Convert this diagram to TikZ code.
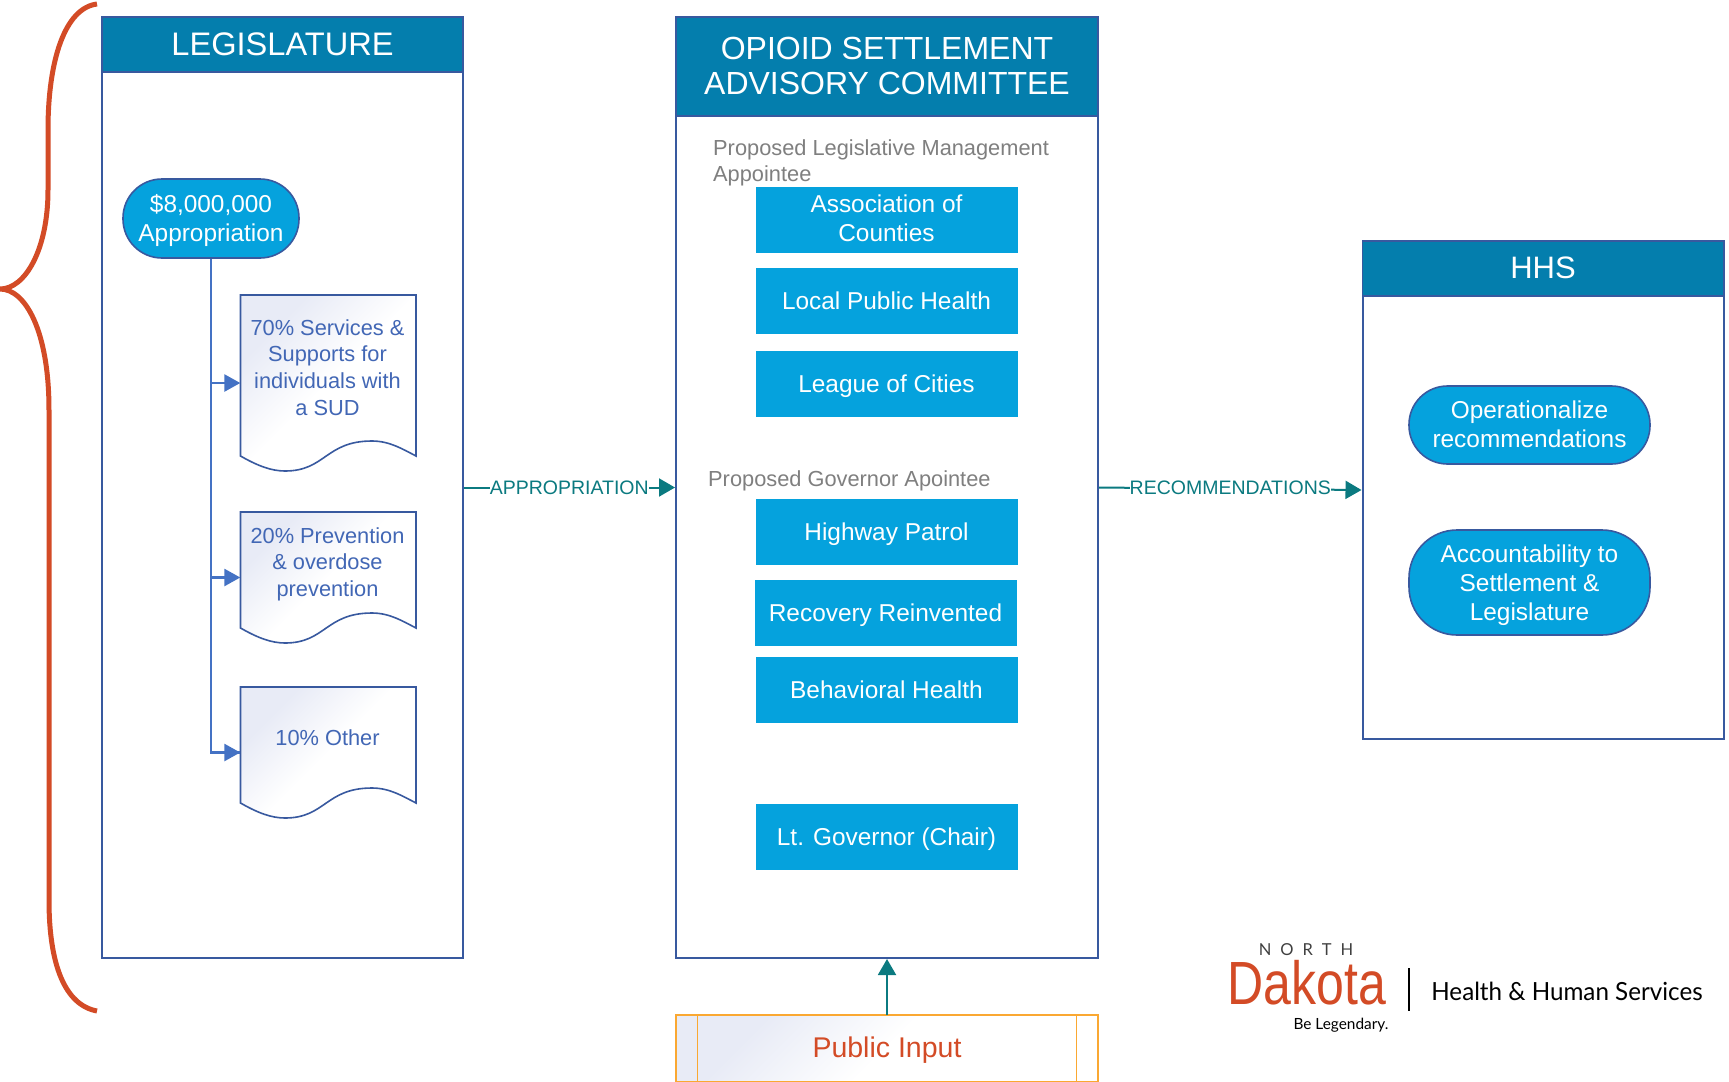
\documentclass[tikz,border=0pt]{standalone}
\usepackage{fontspec}
\setmainfont{Liberation Sans}
\newfontfamily\logofont{Lato}
\usetikzlibrary{arrows.meta,calc}
\definecolor{hdr}{HTML}{047EAD}
\definecolor{tile}{HTML}{05A2DD}
\definecolor{frame}{HTML}{38599F}
\definecolor{link}{HTML}{4472C4}
\definecolor{teal}{HTML}{0B7A80}
\definecolor{rust}{HTML}{D34B26}
\definecolor{amber}{HTML}{FAA832}
\definecolor{pale}{HTML}{E8EBF6}
\definecolor{graytxt}{HTML}{7F7F7F}
\definecolor{doctxt}{HTML}{4267B5}
\pgfdeclarehorizontalshading{docgrad}{100bp}{color(0bp)=(pale); color(28bp)=(pale); color(50bp)=(white); color(100bp)=(white)}
\newcommand\docshape[3]{%
  \path[draw=frame,line width=1.6bp,shading=docgrad,shading angle=-45,shift={(#1,#2)}]
    (0,-#3) -- (0,0) .. controls (17.5,10) and (31,15) .. (44.5,15)
    .. controls (85,15) and (85,-15) .. (131.5,-15)
    .. controls (149,-15) and (162,-7) .. (175.5,0) -- (175.5,-#3) -- cycle;}
\tikzset{
  panel/.style={draw=frame,line width=2bp,fill=white,rectangle,inner sep=0pt},
  header/.style={draw=frame,line width=1.6bp,fill=hdr,text=white,rectangle,inner sep=0pt,align=center,font=\fontsize{32bp}{35bp}\selectfont},
  tilebox/.style={fill=tile,draw=white,line width=0.6bp,text=white,rectangle,inner sep=0pt,align=center,minimum width=263bp,minimum height=67bp,font=\fontsize{24.4bp}{29bp}\selectfont},
  tileone/.style={tilebox,text height=17.5bp,text depth=0pt},
  pill/.style={fill=tile,draw=frame,line width=1.6bp,text=white,rectangle,inner sep=0pt,align=center,font=\fontsize{24.4bp}{29bp}\selectfont},
  docframe/.style={rectangle,inner sep=0pt,minimum width=175.5bp},
  doctext/.style={text=doctxt,align=center,inner sep=0pt,font=\fontsize{21.8bp}{26.6bp}\selectfont},
  graylabel/.style={text=graytxt,anchor=north west,align=left,inner sep=0pt,font=\fontsize{21.8bp}{25.4bp}\selectfont},
  bluelink/.style={draw=link,line width=2.6bp},
  bluearrow/.style={bluelink,-{Triangle[length=16bp,width=17bp]}},
  tealarrow/.style={draw=teal,line width=2bp,-{Triangle[length=16bp,width=18bp]}},
  flowlabel/.style={fill=white,text=teal,inner xsep=0pt,inner ysep=1bp,font=\fontsize{19.5bp}{24bp}\selectfont}
}
\begin{document}
\begin{tikzpicture}[x=1bp,y=-1bp]
\useasboundingbox (0,0) rectangle (1729,1081);
\fill[white] (0,0) rectangle (1729,1081);
% brace
\draw[rust,line width=5bp] (97,4) .. controls (65,8) and (48,60) .. (48,130) -- (48,190)
  .. controls (48,250) and (25,289) .. (0,289)
  .. controls (25,289) and (49,330) .. (49,410) -- (49,900)
  .. controls (49,965) and (65,1005) .. (97,1011);
% panels
\node[panel,minimum width=360bp,minimum height=941bp] (leg) at (282.5,487.5) {};
\node[header,minimum width=360bp,minimum height=55bp,font=\fontsize{32.6bp}{35bp}\selectfont] (legh) at (282.5,44.5) {LEGISLATURE};
\node[panel,minimum width=422bp,minimum height=941bp] (mid) at (887,487.5) {};
\node[header,minimum width=422bp,minimum height=99bp,text depth=2bp] (midh) at (887,66.5) {OPIOID SETTLEMENT\\ADVISORY COMMITTEE};
\node[panel,minimum width=361bp,minimum height=498bp] (hhs) at (1543,490) {};
\node[header,minimum width=361bp,minimum height=55bp,text depth=2bp,font=\fontsize{31bp}{35bp}\selectfont] (hhsh) at (1543,268.5) {HHS};
% left column
\node[pill,minimum width=176bp,minimum height=79bp,rounded corners=39bp] (approp) at (211,218.5) {\rule{0pt}{21.5bp}\$8,000,000\\Appropriation};
\docshape{240.5}{456}{161}
\docshape{240.5}{628}{116}
\docshape{240.5}{803}{116}
\node[docframe,minimum height=176bp] (d1) at (328.25,383) {};
\node[docframe,minimum height=131bp] (d2) at (328.25,577.5) {};
\node[docframe,minimum height=131bp] (d3) at (328.25,752.5) {};
\node[doctext] (d1t) at (327.5,367.5) {70\% Services \&\\Supports for\\individuals with\\a SUD};
\node[doctext] (d2t) at (327.5,564) {20\% Prevention\\\& overdose\\prevention};
\node[doctext] (d3t) at (327.5,737.5) {10\% Other};
\draw[bluelink] (approp.south) -- (approp.south |- d3.west) -- (d3.west);
\draw[bluearrow] (approp.south |- d1.west) -- (d1.west);
\draw[bluearrow] (approp.south |- d2.west) -- (d2.west);
\draw[bluearrow] (approp.south |- d3.west) -- (d3.west);
% middle column
\node[graylabel] (glm) at (713,140) {Proposed Legislative Management\\Appointee};
\node[graylabel] (ggv) at (708,470.5) {Proposed Governor Apointee};
\node[tilebox,text depth=2bp] (t1) at (886.5,219.5) {Association of\\Counties};
\node[tileone] (t2) at (886.5,300.5) {Local Public Health};
\node[tileone] (t3) at (886.5,383.5) {League of Cities};
\node[tileone] (t4) at (886.5,531.5) {Highway Patrol};
\node[tileone] (t5) at (885.5,613) {Recovery Reinvented};
\node[tileone] (t6) at (886.5,689.5) {Behavioral Health};
\node[tileone] (t7) at (886.5,837) {Lt. Governor (Chair)};
% right column
\node[pill,minimum width=241bp,minimum height=78bp,rounded corners=38.5bp,text depth=2.5bp] (p1) at (1529.5,425) {Operationalize\\recommendations};
\node[pill,minimum width=241bp,minimum height=105bp,rounded corners=48bp] (p2) at (1529.5,582.5) {\rule{0pt}{23.5bp}Accountability to\\Settlement \&\\Legislature};
% public input
\node[rectangle,inner sep=0pt,minimum width=422bp,minimum height=66.2bp] (pub) at (887,1048.1) {};
\path[shading=docgrad,shading angle=-45,draw=amber,line width=1.8bp] (pub.north west) rectangle (pub.south east);
\draw[amber,line width=1.2bp] ($(pub.north west)+(22,0)$) -- ($(pub.south west)+(22,0)$);
\draw[amber,line width=1.2bp] ($(pub.north east)+(-22,0)$) -- ($(pub.south east)+(-22,0)$);
\node[text=rust,inner sep=0pt,font=\fontsize{28.5bp}{32bp}\selectfont] (pubt) at (887,1050) {Public Input};
% connectors
\draw[tealarrow] (leg.east) -- node[flowlabel] (fa) {APPROPRIATION} (mid.west);
\draw[tealarrow] (mid.east) -- node[flowlabel,yshift=0.8bp] (fr) {RECOMMENDATIONS} (hhs.west);
\draw[tealarrow] (pub.north) -- (mid.south);
% logo
\node[inner sep=0pt,text=black!75,font=\logofont\fontsize{16.5bp}{20bp}\selectfont] (ln) at (1306,950) {N\hspace{9bp}O\hspace{9bp}R\hspace{9bp}T\hspace{9bp}H};
\node[inner sep=0pt,text=rust,xscale=0.82,anchor=center,font=\fontsize{61bp}{64bp}\selectfont] (ld) at (1307,982.5) {Dakota};
\node[inner sep=0pt,text=black,font=\logofont\fontsize{15.4bp}{16bp}\selectfont] (lb) at (1341,1025) {Be Legendary.};
\coordinate (la) at (1409,968);
\coordinate (lc) at (1409,1011);
\draw[black,line width=1.5bp] (la) -- (lc);
\node[inner sep=0pt,text=black,xscale=0.968,font=\logofont\fontsize{25bp}{28bp}\selectfont] (lh) at (1567,991) {Health \& Human Services};
\end{tikzpicture}
\end{document}
